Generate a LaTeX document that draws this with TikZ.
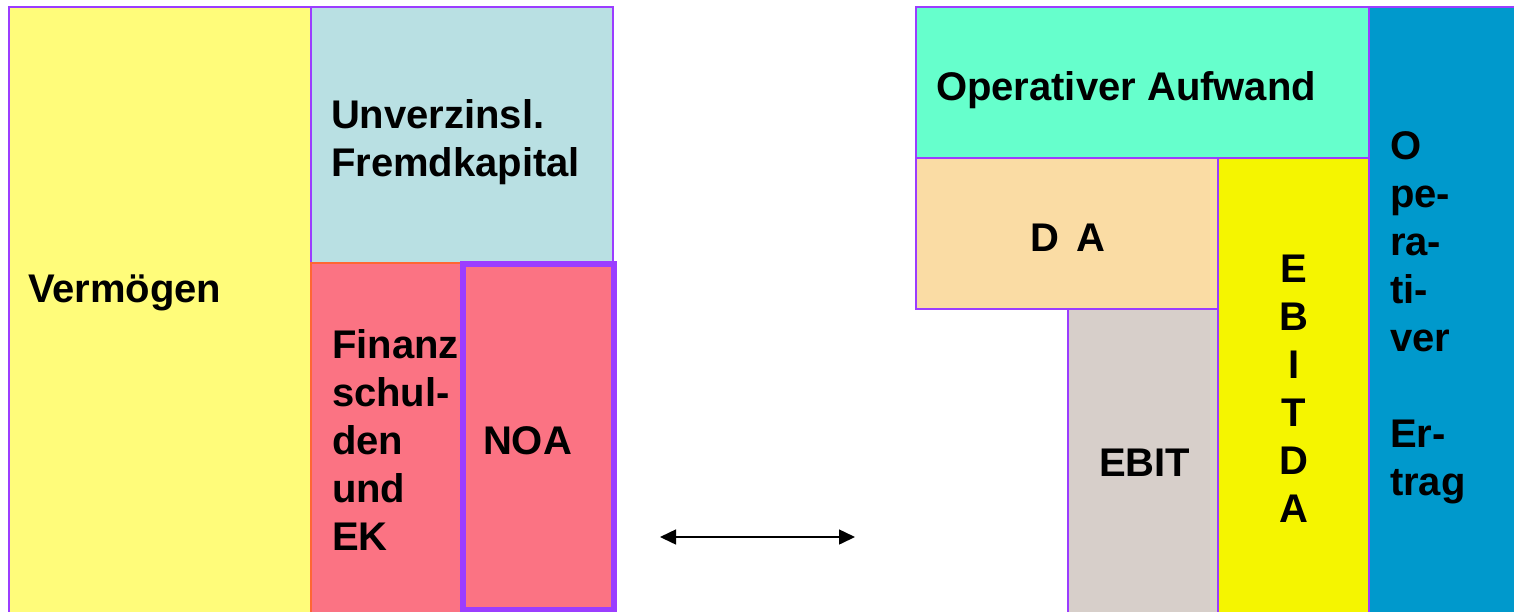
\documentclass[tikz,border=0pt]{standalone}
\usepackage{fontspec}
\setmainfont{Liberation Sans}
\usetikzlibrary{arrows.meta,fit}

\definecolor{vermYellow}{HTML}{FFFC7A}
\definecolor{fkBlue}{HTML}{B9E0E3}
\definecolor{finPink}{HTML}{FB7383}
\definecolor{edgePurple}{HTML}{9B3DFF}
\definecolor{edgeOrange}{HTML}{FF6633}
\definecolor{mint}{HTML}{66FFCC}
\definecolor{wheatish}{HTML}{FADCA4}
\definecolor{ebitdaYellow}{HTML}{F5F500}
\definecolor{ebitGrey}{HTML}{D7CFCA}
\definecolor{ertragBlue}{HTML}{0099CC}

\tikzset{
  block/.style={draw=edgePurple, line width=1.5pt, inner sep=0pt, outer sep=0pt},
  lbl/.style={inner sep=0pt, outer sep=0pt, align=left, anchor=north west,
              font=\fontsize{40}{48}\selectfont\bfseries},
  clbl/.style={lbl, align=center, anchor=north},
  bigtip/.tip={Triangle[length=16pt,width=15pt]},
}

\begin{document}
\begin{tikzpicture}[x=1pt,y=-1pt]
\useasboundingbox (0,0) rectangle (1514,611);
\clip (0,0) rectangle (1514,611);

% balance sheet side
\node[block, line width=2pt, fill=vermYellow, fit={(9,7) (311,640)}] (verm) {};
\node[block, fill=fkBlue, fit={(311,7) (613,263)}] (fk) {};
\node[block, draw=edgeOrange, fill=finPink, fit={(311,263) (462,640)}] (fin) {};
\node[block, line width=6pt, fill=finPink, fit={(462.5,264) (614,609.5)}] (noa) {};

\node[lbl] (tverm) at (28,275) {Vermögen};
\node[lbl] (tfk) at (331,100) {Unverzinsl.\\Fremdkapital};
\node[lbl] (tfin) at (332,330) {Finanz\\schul-\\den\\und\\EK};
\node[lbl] (tnoa) at (483,427) {NOA};

% income statement side
\node[block, fill=ertragBlue, fit={(1369,7) (1530,640)}] (ertrag) {};
\node[block, fill=mint, fit={(916,7) (1369,158)}] (aufw) {};
\node[block, fill=wheatish, fit={(916,158) (1218,309)}] (da) {};
\node[block, fill=ebitdaYellow, fit={(1218,158) (1369,640)}] (ebitda) {};
\node[block, fill=ebitGrey, fit={(1068,309) (1218,640)}] (ebit) {};

\node[lbl] (taufw) at (936,72) {Operativer Aufwand};
\node[lbl] (tda) at (1030,224) {D\hspace{18pt}A};
\node[clbl] (tebitda) at (1294,255) {E\\B\\I\\T\\D\\A};
\node[lbl] (tebit) at (1099,449) {EBIT};
\node[lbl] (tertrag) at (1390,132) {O\\pe-\\ra-\\ti-\\ver\\[48pt]Er-\\trag};

% link between the two statements
\coordinate (arrL) at (660,537);
\coordinate (arrR) at (855,537);
\draw[line width=1.5pt, bigtip-bigtip] (arrL) -- (arrR);
\end{tikzpicture}
\end{document}
